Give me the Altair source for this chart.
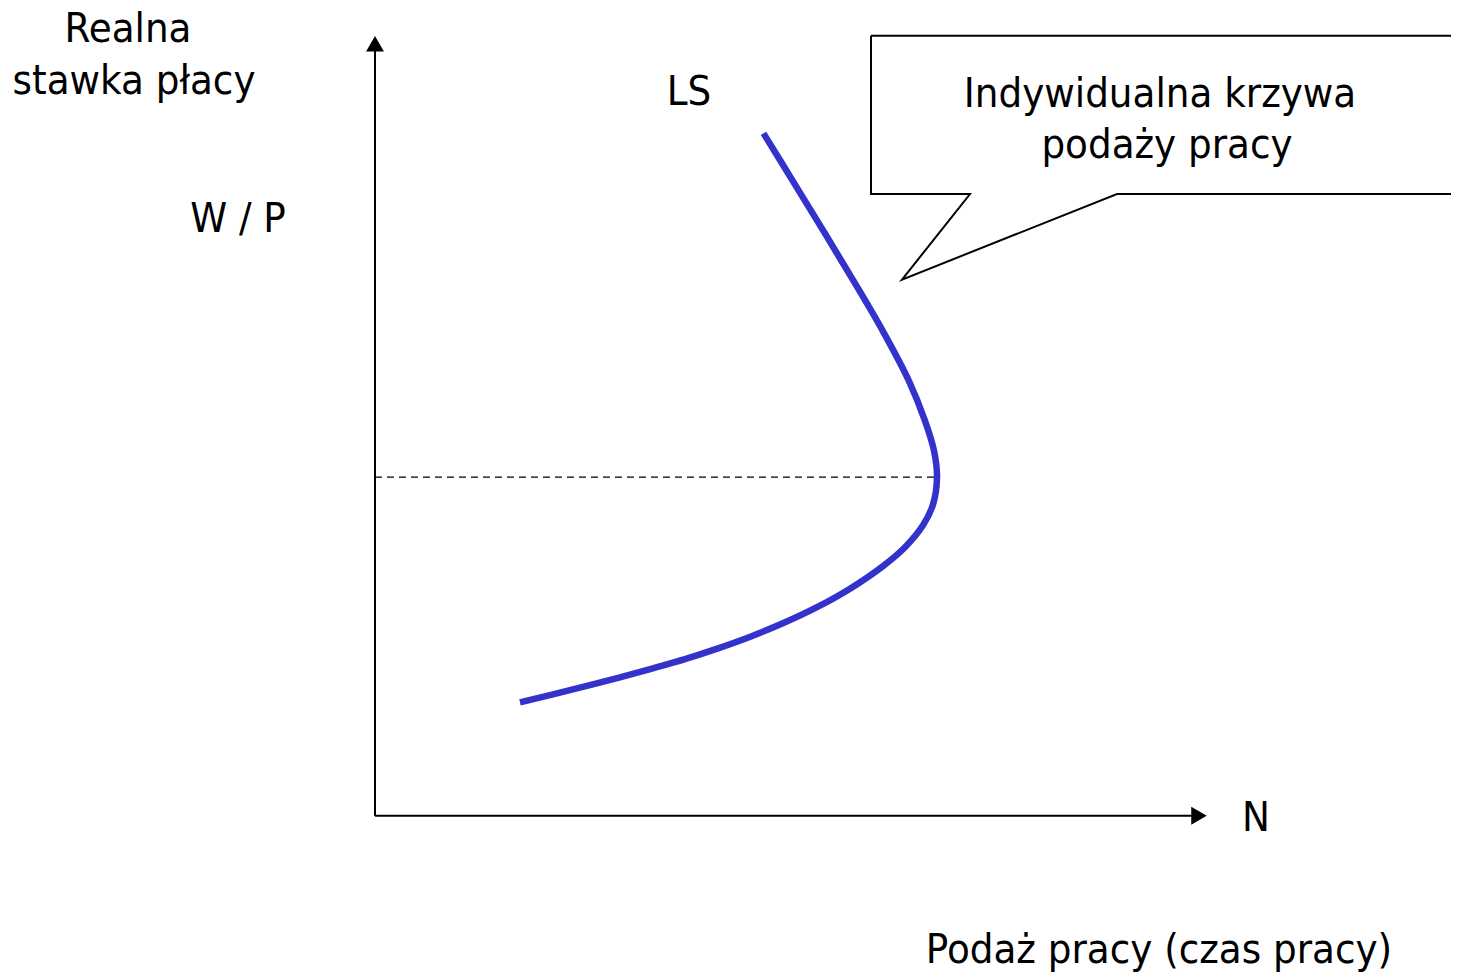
import altair as alt
import pandas as pd

# Diagram units: origin at the corner of the two axes (x right, y up)
FONT = "DejaVu Sans Condensed, Liberation Sans, DejaVu Sans"

# LS curve (individual labour supply), bottom -> top
ls_x = [145, 178, 211, 244, 277, 310, 343, 376, 409, 442, 475, 508, 530, 548, 558, 562,
        559, 550, 534, 508, 479, 449, 418.5, 388.5]
ls_y = [114, 122, 130.4, 139, 148, 157.5, 168.3, 180.3, 194, 209.7, 228.3, 251, 270, 292, 313, 340,
        367, 397, 437, 487, 537, 587, 637, 686]

# axes
axis_top = 776
axis_right = 824

# dashed reference level (backward-bending point)
dash_x = [0, 562]
dash_y = [340.5, 340.5]

# callout box outline (right side runs off the picture)
call_x = [496, 1100, 1100, 742, 527, 595, 496, 496]
call_y = [784, 784, 625, 625, 539, 625, 625, 784]

# arrow heads
arrow_x = [0, 824]
arrow_y = [776, 0]
arrow_shape = ["triangle-up", "triangle-right"]

# texts
txt = ["Realna", "stawka płacy", "W / P", "LS", "N",
       "Indywidualna krzywa", "podaży pracy", "Podaż pracy (czas pracy)"]
txt_x = [-247, -241, -137, 314, 881, 785, 792, 784]
txt_y = [778, 726, 587, 715, -15, 713, 661, -148]

XD = [-367, 1076]
YD = [-155, 809]
xs = alt.Scale(domain=XD, nice=False, zero=False)
ys = alt.Scale(domain=YD, nice=False, zero=False)

curve_df = pd.DataFrame({"x": ls_x, "y": ls_y, "o": range(len(ls_x))})
vaxis_df = pd.DataFrame({"x": [0], "y": [0], "y2": [axis_top]})
haxis_df = pd.DataFrame({"x": [0], "x2": [axis_right], "y": [0]})
dash_df = pd.DataFrame({"x": dash_x, "y": dash_y, "o": [0, 1]})
call_df = pd.DataFrame({"x": call_x, "y": call_y, "o": range(len(call_x))})
arrow_df = pd.DataFrame({"x": arrow_x, "y": arrow_y, "s": arrow_shape})
txt_df = pd.DataFrame({"t": txt, "x": txt_x, "y": txt_y})

X = lambda: alt.X("x:Q", scale=xs, axis=None)
Y = lambda: alt.Y("y:Q", scale=ys, axis=None)

vaxis = alt.Chart(vaxis_df).mark_rule(color="black", strokeWidth=2).encode(
    x=X(), y=Y(), y2="y2:Q")
haxis = alt.Chart(haxis_df).mark_rule(color="black", strokeWidth=2).encode(
    x=X(), x2="x2:Q", y=Y())

arrows = alt.Chart(arrow_df).mark_point(filled=True, color="black", opacity=1, size=320).encode(
    x=X(), y=Y(),
    shape=alt.Shape("s:N", scale=alt.Scale(domain=arrow_shape, range=arrow_shape), legend=None))

dashed = alt.Chart(dash_df).mark_line(color="black", strokeWidth=1.2, strokeDash=[7, 5]).encode(
    x=X(), y=Y(), order="o:Q")

curve = alt.Chart(curve_df).mark_line(color="#3333CC", strokeWidth=6.5, interpolate="catmull-rom",
                                      strokeCap="butt").encode(
    x=X(), y=Y(), order="o:Q")

callout = alt.Chart(call_df).mark_line(color="black", strokeWidth=2, clip=True,
                                       strokeJoin="miter").encode(
    x=X(), y=Y(), order="o:Q")

texts = alt.Chart(txt_df).mark_text(font=FONT, fontSize=41.5, color="black",
                                    align="center", baseline="alphabetic").encode(
    x=X(), y=Y(), text="t:N")

chart = alt.layer(dashed, vaxis, haxis, arrows, callout, curve, texts).properties(
    width=1443, height=964,
    autosize=alt.AutoSizeParams(type="fit", contains="padding"),
    padding=0,
).configure_view(stroke=None)

chart.save("out.html", embed_options={"renderer": "svg", "actions": False})
